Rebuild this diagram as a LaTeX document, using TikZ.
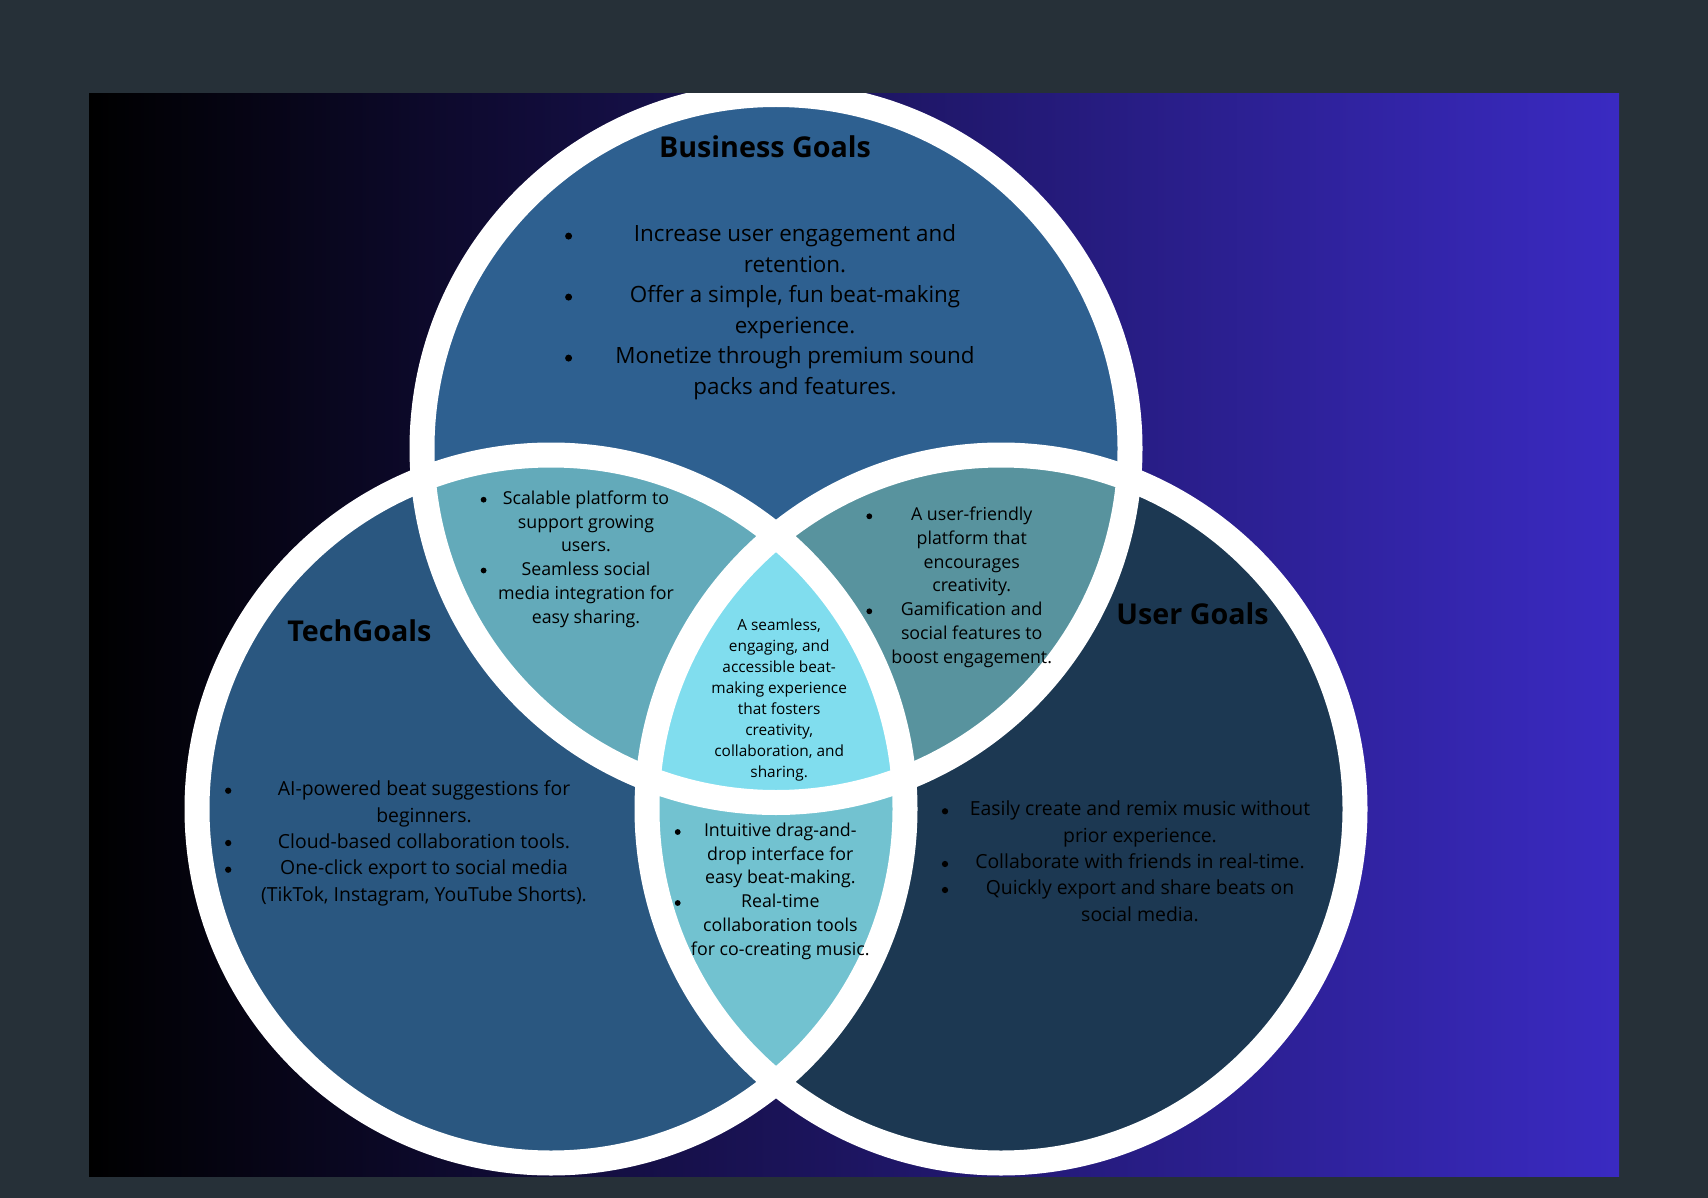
\documentclass[tikz,border=0pt]{standalone}
\usepackage{fontspec}
\setmainfont{Open Sans}
\definecolor{slate}{HTML}{263038}
\definecolor{gradR}{RGB}{58,42,194}
\definecolor{bizc}{HTML}{2E6090}
\definecolor{techc}{HTML}{2A5780}
\definecolor{userc}{HTML}{1C3852}
\definecolor{btc}{HTML}{63AABA}
\definecolor{buc}{HTML}{58939E}
\definecolor{tuc}{HTML}{72C2D0}
\definecolor{allc}{HTML}{80DDEE}
\begin{document}
\begin{tikzpicture}[x=1pt,y=-1pt,
  ring/.style={draw=white,line width=25pt},
  ttl/.style={inner sep=0pt,anchor=base,text=black,font=\fontsize{28.7}{34}\selectfont\bfseries},
  bigtxt/.style={inner sep=0pt,align=center,text=black,font=\fontsize{22.4}{30.5}\selectfont},
  midtxt/.style={inner sep=0pt,align=center,text=black,font=\fontsize{19.4}{26.4}\selectfont},
  lenstxt/.style={inner sep=0pt,align=center,text=black,font=\fontsize{17.8}{23.8}\selectfont},
  cortxt/.style={inner sep=0pt,align=center,text=black,font=\fontsize{15.4}{21}\selectfont},
  bul/.style={circle,fill=black,inner sep=0pt,minimum size=#1},
  bul/.default=6pt]
\useasboundingbox (0,0) rectangle (1708,1198);
\fill[slate] (0,0) rectangle (1708,1198);
\shade[left color=black,right color=gradR] (89,94) rectangle (1619,1176);
\coordinate (cb) at (776,448.5);
\coordinate (ct) at (551,809);
\coordinate (cu) at (1001,809);
\begin{scope}
  \clip (89,94) rectangle (1619,1176);
  \fill[bizc] (cb) circle (354);
  \fill[techc] (ct) circle (354);
  \fill[userc] (cu) circle (354);
  \begin{scope}\clip (cb) circle (354); \fill[btc] (ct) circle (354);\end{scope}
  \begin{scope}\clip (cb) circle (354); \fill[buc] (cu) circle (354);\end{scope}
  \begin{scope}\clip (ct) circle (354); \fill[tuc] (cu) circle (354);\end{scope}
  \begin{scope}\clip (cb) circle (354); \clip (ct) circle (354); \fill[allc] (cu) circle (354);\end{scope}
  \draw[ring] (cb) circle (354);
  \draw[ring] (ct) circle (354);
  \draw[ring] (cu) circle (354);
\end{scope}
% titles
\node[ttl] (tbiz) at (765,157.3) {Business Goals};
\node[ttl] (ttech) at (359.4,641) {TechGoals};
\node[ttl] (tuser) at (1192.6,624.3) {User Goals};
\begin{scope}[yshift=-3pt]
% business list
\node[bigtxt] (lbiz) at (795,309.4) {Increase user engagement and\\retention.\\Offer a simple, fun beat-making\\experience.\\Monetize through premium sound\\packs and features.};
\node[bul=7pt] (bb1) at (568.6,233.1) {};
\node[bul=7pt] (bb2) at (568.6,294.1) {};
\node[bul=7pt] (bb3) at (568.6,355.1) {};
% business & tech
\node[lenstxt] (lbt) at (586,556.1) {Scalable platform to\\support growing\\users.\\Seamless social\\media integration for\\easy sharing.};
\node[bul=5.8pt] (bbt1) at (483.6,496.7) {};
\node[bul=5.8pt] (bbt2) at (483.6,567.5) {};
% business & user
\node[lenstxt] (lbu) at (971.7,584.2) {A user-friendly\\platform that\\encourages\\creativity.\\Gamification and\\social features to\\boost engagement.};
\node[bul=5.8pt] (bbu1) at (869.3,513.3) {};
\node[bul=5.8pt] (bbu2) at (869.3,608.3) {};
% centre
\node[cortxt] (lall) at (779.2,696.7) {A seamless,\\engaging, and\\accessible beat-\\making experience\\that fosters\\creativity,\\collaboration, and\\sharing.};
% tech & user
\node[lenstxt] (ltu) at (780.3,888.2) {Intuitive drag-and-\\drop interface for\\easy beat-making.\\Real-time\\collaboration tools\\for co-creating music.};
\node[bul=5.8pt] (btu1) at (677.7,829) {};
\node[bul=5.8pt] (btu2) at (677.7,900) {};
% tech
\node[midtxt] (ltech) at (424,840.5) {AI-powered beat suggestions for\\beginners.\\Cloud-based collaboration tools.\\One-click export to social media\\(TikTok, Instagram, YouTube Shorts).};
\node[bul=6.3pt] (bt1) at (228.2,787.7) {};
\node[bul=6.3pt] (bt2) at (228.2,840) {};
\node[bul=6.3pt] (bt3) at (228.2,866.7) {};
% user
\node[midtxt] (luser) at (1140,858.2) {Easily create and remix music without\\prior experience.\\Collaborate with friends in real-time.\\Quickly export and share beats on\\social media.};
\node[bul=6.3pt] (bu1) at (945,808.3) {};
\node[bul=6.3pt] (bu2) at (945,861) {};
\node[bul=6.3pt] (bu3) at (945,887) {};
\end{scope}
\end{tikzpicture}
\end{document}
